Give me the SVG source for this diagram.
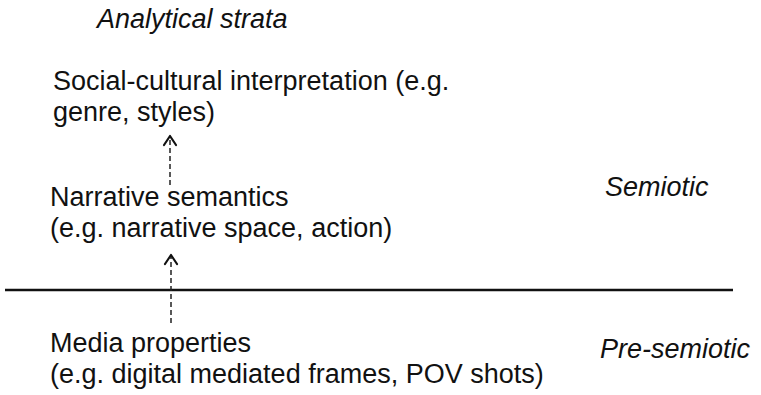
<svg xmlns="http://www.w3.org/2000/svg" width="761" height="395" viewBox="0 0 761 395">
<defs>
<style>
text{font-family:"Liberation Sans",Arial,sans-serif;font-size:27px;fill:#111}
.it{font-style:italic}
.dash{stroke:#222;stroke-width:1.5;stroke-dasharray:5,3;fill:none}
.head{stroke:#111;stroke-width:2.2;fill:none;stroke-linecap:round;stroke-linejoin:round}
</style>
</defs>
<rect width="761" height="395" fill="#fff"/>
<text class="it" x="97" y="28">Analytical strata</text>
<g id="social"><text x="53" y="90">Social-cultural interpretation (e.g.</text><text x="53" y="121">genre, styles)</text></g>
<g id="narrative"><text x="50" y="206">Narrative semantics</text><text x="50" y="237">(e.g. narrative space, action)</text></g>
<g id="media"><text x="50" y="352">Media properties</text><text x="50" y="383">(e.g. digital mediated frames, POV shots)</text></g>
<text class="it" x="605" y="196">Semiotic</text>
<text class="it" x="600" y="358">Pre-semiotic</text>
<line x1="5" y1="290" x2="733" y2="290" stroke="#111" stroke-width="2.5"/>
<g id="connectors">
<line class="dash" x1="170" y1="185" x2="170" y2="137"/>
<polyline class="head" points="164,145 170,136 176,145"/>
<line class="dash" x1="171" y1="323" x2="171" y2="255"/>
<polyline class="head" points="165,264 171,255 177,264"/>
</g>
</svg>
